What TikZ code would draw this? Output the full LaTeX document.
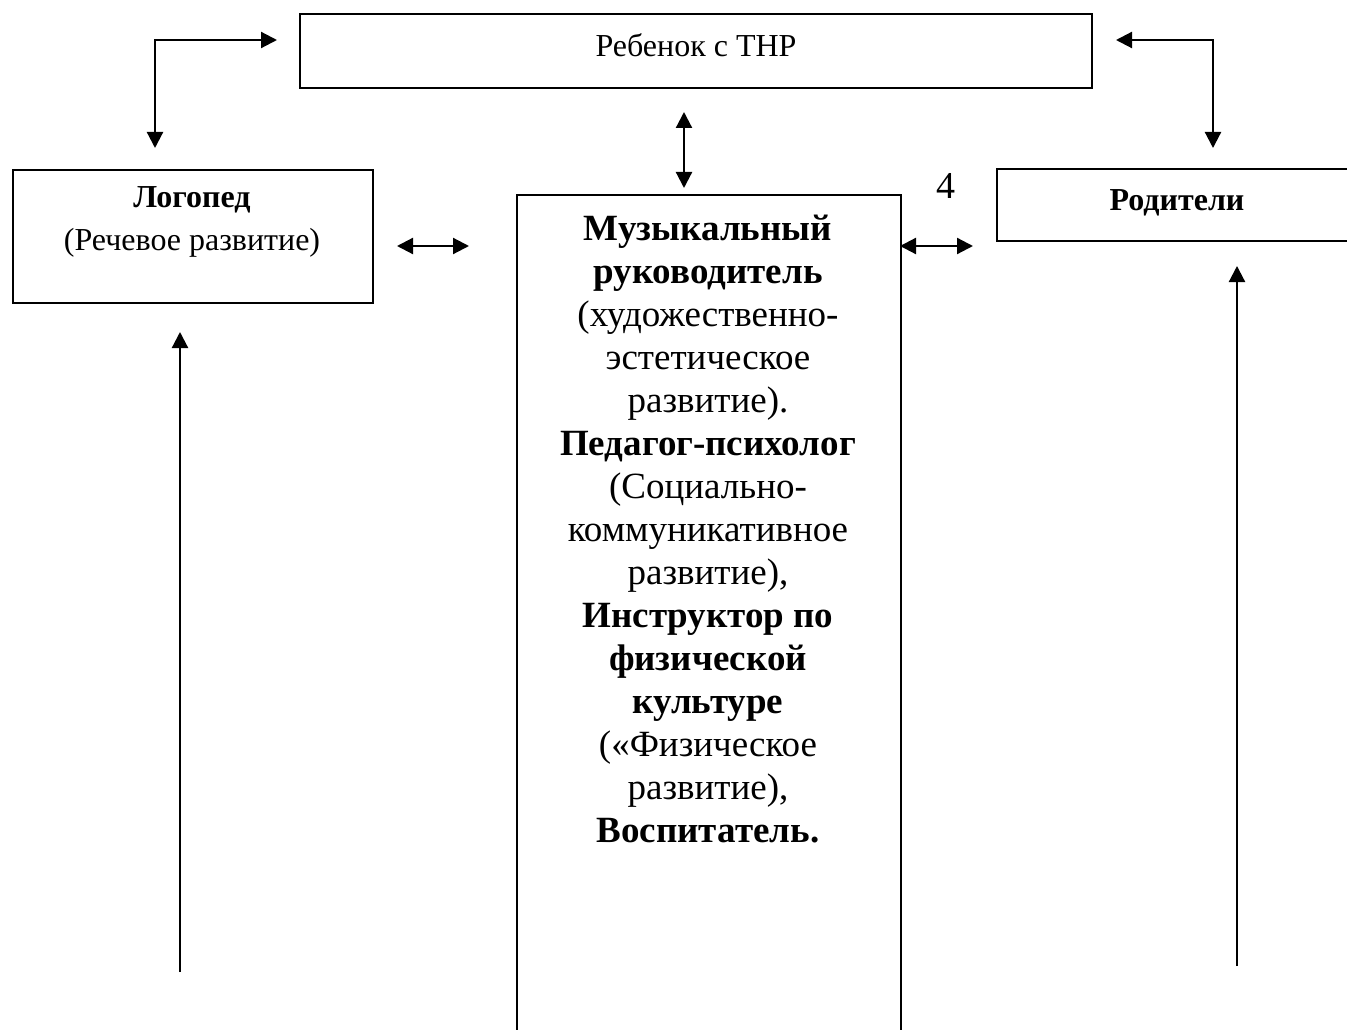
\documentclass[tikz,border=0pt]{standalone}
\usepackage{fontspec}
\setmainfont{Liberation Serif}
\usetikzlibrary{arrows.meta,positioning}

\tikzset{
  box/.style={draw, line width=2pt, rectangle, inner sep=0pt, align=center},
  link/.style={line width=2.2pt, {Triangle[length=16pt,width=16pt]}-{Triangle[length=16pt,width=16pt]}},
  uplink/.style={line width=2.2pt, -{Triangle[length=16pt,width=16pt]}},
  small/.style={font=\fontsize{32}{43}\selectfont},
  big/.style={font=\fontsize{37}{43}\selectfont},
}

\begin{document}
\begin{tikzpicture}[x=1pt,y=-1pt]
      \useasboundingbox (0,0) rectangle (1347,1030);
      \clip (0,0) rectangle (1347,1030);

      % boxes
      \node [box, minimum width=792, minimum height=74] (child) at (696,51) {};
      \node [small] (childtext) at (696,45) {Ребенок с ТНР};
      \node [box, minimum width=360, minimum height=133, anchor=north west] (logoped) at (12,169) {};
      \node [small, align=center, anchor=north] (logotext) at (192,183) {\textbf{Логопед}\\(Речевое развитие)};
      \node [box, minimum width=362, minimum height=72, anchor=north west] (parents) at (996,168) {};
      \node [small] (parentstext) at (1177,203) {\textbf{Родители}};
      \node [box, minimum width=384, minimum height=880, anchor=north west] (music) at (516,194) {};
      \node [big, align=center, anchor=north] (musictext) at (708,211) {%
        \textbf{Музыкальный}\\\textbf{руководитель}\\(художественно-\\эстетическое\\развитие).\\%
        \textbf{Педагог-психолог}\\(Социально-\\коммуникативное\\развитие),\\%
        \textbf{Инструктор по}\\\textbf{физической}\\\textbf{культуре}\\(«Физическое\\развитие),\\%
        \textbf{Воспитатель.}};
      \node [font=\fontsize{38}{40}\selectfont] (four) at (946,186) {4};

      % arrow ends
      \coordinate (tl1) at (155,148);
      \coordinate (tl2) at (277,40);
      \coordinate (tr1) at (1116,40);
      \coordinate (tr2) at (1213,148);
      \coordinate (cm1) at (684,112);
      \coordinate (cm2) at (684,188);
      \coordinate (lm1) at (397,246);
      \coordinate (lm2) at (469,246);
      \coordinate (rm1) at (900,246);
      \coordinate (rm2) at (973,246);
      \coordinate (lu1) at (180,972);
      \coordinate (lu2) at (180,332);
      \coordinate (ru1) at (1237,966);
      \coordinate (ru2) at (1237,266);

      % arrows
      \draw [link] (tl1) |- (tl2);
      \draw [link] (tr1) -| (tr2);
      \draw [link] (cm1) -- (cm2);
      \draw [link] (lm1) -- (lm2);
      \draw [link] (rm1) -- (rm2);
      \draw [uplink] (lu1) -- (lu2);
      \draw [uplink] (ru1) -- (ru2);

    \end{tikzpicture}
\end{document}
